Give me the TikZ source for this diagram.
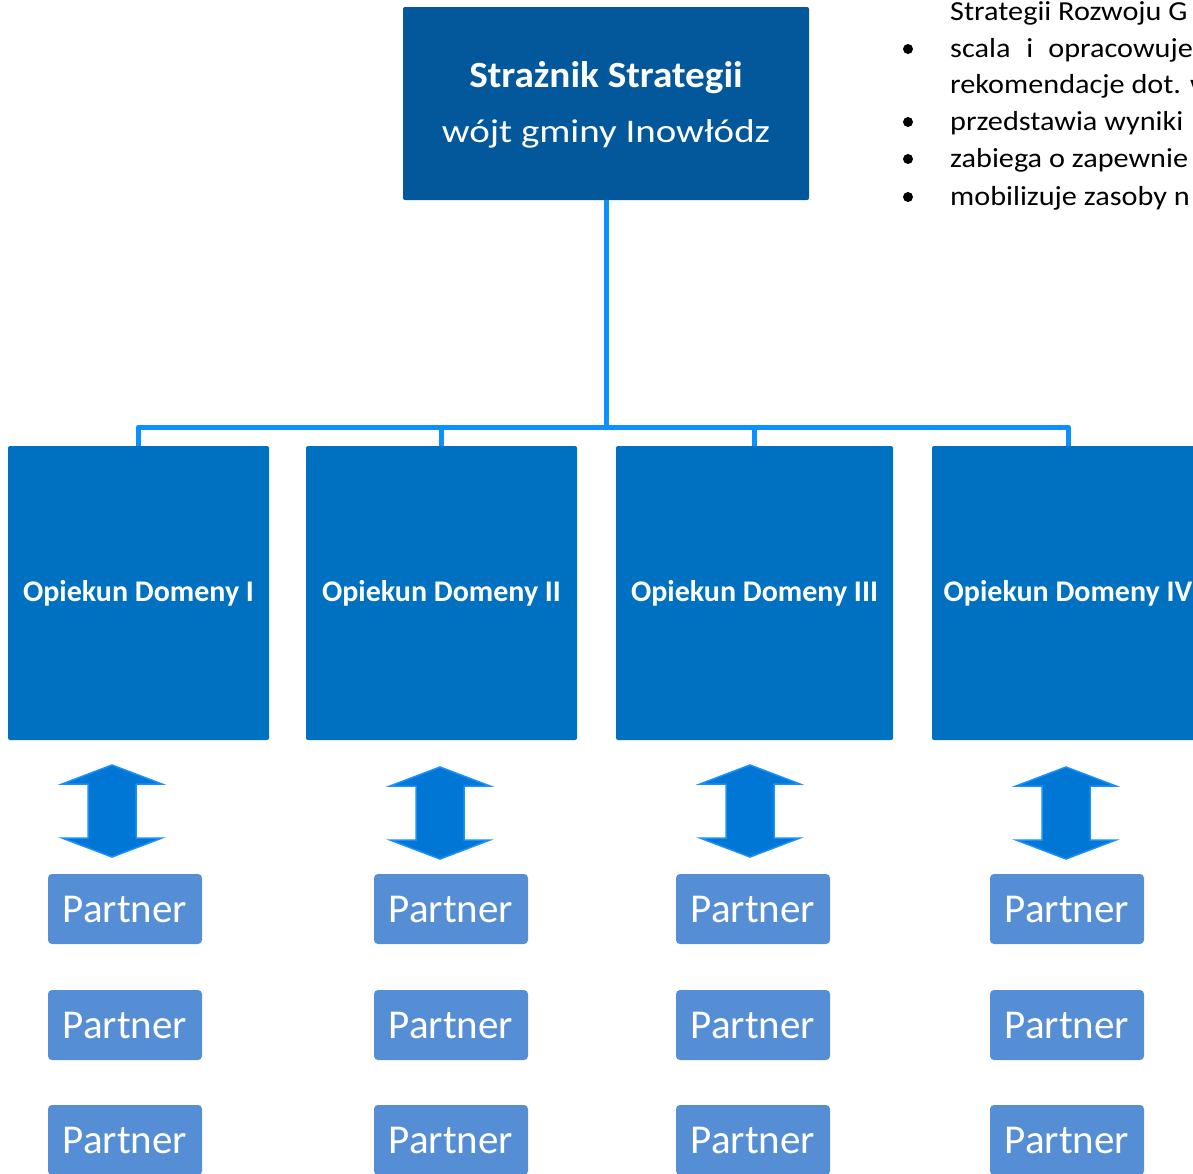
\documentclass[tikz,border=0pt]{standalone}
\usepackage{fontspec}
\setmainfont{Carlito}
\newfontfamily\candR[FakeStretch=1.18]{Carlito}
\newfontfamily\candB[FakeStretch=1.06]{Carlito}
\newfontfamily\candT[FakeStretch=1.1]{Carlito}
\definecolor{topblue}{RGB}{3,88,155}
\definecolor{domblue}{RGB}{0,112,192}
\definecolor{partblue}{RGB}{85,142,213}
\definecolor{linkblue}{RGB}{12,143,255}
\definecolor{arrfill}{RGB}{0,119,212}
\definecolor{arredge}{RGB}{26,144,255}
\begin{document}
\begin{tikzpicture}[x=1pt,y=-1pt,
  topbox/.style={rectangle,fill=topblue,rounded corners=2pt,inner sep=0pt,minimum width=406pt,minimum height=193pt},
  toptext/.style={text=white,anchor=base,inner sep=0pt},
  dombox/.style={rectangle,fill=domblue,rounded corners=2pt,inner sep=0pt,minimum height=294pt,text=white,font=\fontsize{30}{36}\selectfont\bfseries},
  partbox/.style={rectangle,fill=partblue,rounded corners=4pt,inner sep=0pt,minimum width=154pt,minimum height=70pt,text=white,font=\fontsize{41}{48}\selectfont},
  conn/.style={draw=linkblue,line width=5pt,line join=round},
  arrowstyle/.style={fill=arrfill,draw=arredge,line width=1.5pt,line join=miter},
  bultext/.style={anchor=base west,inner sep=0pt,text=black,font=\candT\fontsize{27.5}{32}\selectfont},
  bulletdot/.style={circle,fill=black,inner sep=0pt,minimum size=10pt},
  dblarr/.pic={\path[arrowstyle] (0,0) -- (50,19) -- (24,19) -- (24,73) -- (50,73) -- (0,92) -- (-50,73) -- (-24,73) -- (-24,19) -- (-50,19) -- cycle;}
]
\useasboundingbox (0,0) rectangle (1193,1173);
\clip (0,0) rectangle (1193,1173);

% top box
\node[topbox] (top) at (606,103.5) {};
\node[toptext,font=\candB\bfseries\fontsize{37}{44}\selectfont] (topT1) at (606,87) {Strażnik Strategii};
\node[toptext,font=\candR\fontsize{33}{40}\selectfont] (topT2) at (606,142) {wójt gminy Inowłódz};

% domain boxes
\node[dombox,minimum width=261pt] (d1) at (138.5,593) {Opiekun Domeny I};
\node[dombox,minimum width=271pt] (d2) at (441.5,593) {Opiekun Domeny II};
\node[dombox,minimum width=277pt] (d3) at (754.5,593) {Opiekun Domeny III};
\node[dombox,minimum width=272pt] (d4) at (1068,593) {Opiekun Domeny IV};

% connectors
\coordinate (bus) at (606,427);
\draw[conn] (top.south) -- (bus);
\draw[conn] (d1.north) -- (d1.north |- bus) -- (d4.north |- bus) -- (d4.north);
\draw[conn] (d2.north) -- (d2.north |- bus);
\draw[conn] (d3.north) -- (d3.north |- bus);

% double arrows
\pic (a1) at (112,765) {dblarr};
\pic (a2) at (440,767) {dblarr};
\pic (a3) at (750,765) {dblarr};
\pic (a4) at (1066,767) {dblarr};

% partners
\foreach \c/\x in {1/125,2/451,3/753,4/1067}{
  \foreach \r/\y in {1/909,2/1025,3/1140}{
    \node[partbox] (p\c\r) at (\x,\y) {Partner};
  }
}

% bullet text
\node[bultext] (b0) at (950,20) {Strategii Rozwoju G};
\node[bultext] (b1) at (950,57) {scala\hspace{16pt}i\hspace{15pt}opracowuje};
\node[bultext] (b2) at (950,93) {rekomendacje dot. w};
\node[bultext] (b3) at (950,130) {przedstawia wyniki};
\node[bultext] (b4) at (950,167) {zabiega o zapewnie};
\node[bultext] (b5) at (950,205) {mobilizuje zasoby n};
\node[bulletdot] (d_b1) at (908,49) {};
\node[bulletdot] (d_b3) at (908,122) {};
\node[bulletdot] (d_b4) at (908,159) {};
\node[bulletdot] (d_b5) at (908,197) {};
\end{tikzpicture}
\end{document}
